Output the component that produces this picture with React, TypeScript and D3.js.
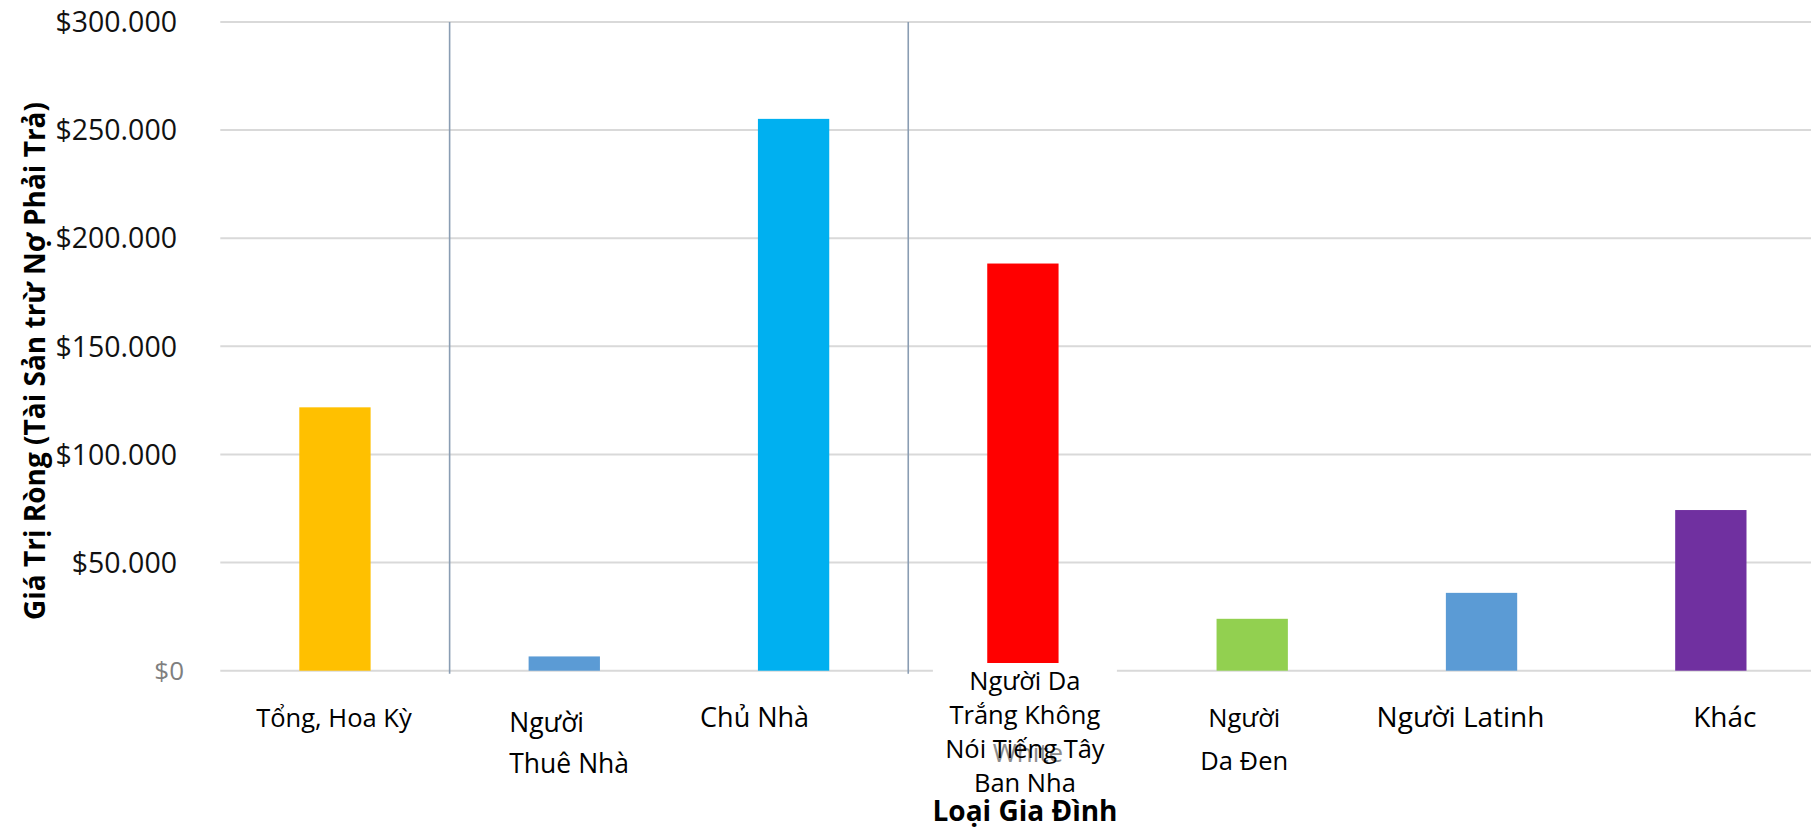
import React from "react";
import * as d3 from "d3";

// ---- data ----
const categories: string[] = [
  "Tổng, Hoa Kỳ",
  "Người Thuê Nhà",
  "Chủ Nhà",
  "Người Da Trắng Không Nói Tiếng Tây Ban Nha",
  "Người Da Đen",
  "Người Latinh",
  "Khác",
];
const labelLines: string[][] = [
  ["Tổng, Hoa Kỳ"],
  ["Người", "Thuê Nhà"],
  ["Chủ Nhà"],
  ["Người Da", "Trắng Không", "Nói Tiếng Tây", "Ban Nha"],
  ["Người", "Da Đen"],
  ["Người Latinh"],
  ["Khác"],
];
const netWorth: number[] = [121800, 6600, 255200, 188300, 24000, 36000, 74300];
const barColors: string[] = ["#FFC000", "#5B9BD5", "#00B0F0", "#FF0000", "#92D050", "#5B9BD5", "#7030A0"];
const yTicks: number[] = [0, 50000, 100000, 150000, 200000, 250000, 300000];
const separatorsAfter: number[] = [0, 2];
const yTitle = "Giá Trị Ròng (Tài Sản trừ Nợ Phải Trả)";
const xTitle = "Loại Gia Đình";
const ghostText = "White";

// ---- layout ----
const W = 1811;
const H = 829;
const FONT = "'Open Sans', 'Noto Sans', sans-serif";
// per-label layout tweaks (dx from band centre, anchor, first baseline, line gap, size)
const labelLayout = [
  { dx: -1, anchor: "middle", y: 727, gap: 42, size: 25.5 },
  { dx: -55, anchor: "start", y: 732, gap: 41, size: 26.5 },
  { dx: -39, anchor: "middle", y: 727, gap: 42, size: 27 },
  { dx: 2, anchor: "middle", y: 690, gap: 34, size: 25.5 },
  { dx: -8, anchor: "middle", y: 727, gap: 43, size: 25.5 },
  { dx: -21, anchor: "middle", y: 727, gap: 42, size: 28 },
  { dx: 14, anchor: "middle", y: 727, gap: 42, size: 28 },
];

export default function App() {
  const x = d3.scaleBand<string>().domain(categories).range([220.3, 1825.5]).padding(0);
  const y = d3.scaleLinear().domain([0, 300000]).range([670.7, 22]);
  const step = x.step();
  const barW = step * 0.311;
  const fmt = (v: number) => "$" + d3.format(",")(v).replace(/,/g, ".");
  const redCx = (x(categories[3]) as number) + step / 2;

  return (
    <svg
      width={W}
      height={H}
      viewBox={`0 0 ${W} ${H}`}
      style={{ position: "absolute", left: 0, top: 0, display: "block", background: "#fff" }}
    >
      <rect x={0} y={0} width={W} height={H} fill="#fff" />
      {/* gridlines */}
      {yTicks.map((t) => (
        <line key={"g" + t} x1={x.range()[0]} x2={x.range()[1]} y1={y(t)} y2={y(t)} stroke="#d9d9d9" strokeWidth={2} />
      ))}
      {/* tick labels */}
      {yTicks.map((t) => (
        <text
          key={"t" + t}
          x={t === 0 ? 184 : 177}
          y={y(t)}
          dy="0.36em"
          textAnchor="end"
          fontFamily={FONT}
          fontSize={t === 0 ? 26 : 28.5}
          fill={t === 0 ? "#7f7f7f" : "#111"}
        >
          {fmt(t)}
        </text>
      ))}
      {/* separators */}
      {separatorsAfter.map((i) => {
        const sx = (x(categories[i]) as number) + step;
        return <line key={"s" + i} x1={sx} x2={sx} y1={y(300000)} y2={y(0) + 3} stroke="#8a9db3" strokeWidth={1.6} />;
      })}
      {/* bars */}
      {categories.map((c, i) => {
        const cx = (x(c) as number) + step / 2;
        return (
          <rect
            key={"b" + i}
            x={cx - barW / 2}
            y={y(netWorth[i])}
            width={barW}
            height={y(0) - y(netWorth[i])}
            fill={barColors[i]}
          />
        );
      })}
      {/* white patch behind the long label */}
      <rect x={redCx - 90} y={663} width={184} height={127} fill="#fff" />
      <text x={redCx + 5} y={762} textAnchor="middle" fontFamily={FONT} fontSize={26} fill="#8c8c8c">
        {ghostText}
      </text>
      {/* category labels */}
      {categories.map((c, i) => {
        const L = labelLayout[i];
        const cx = (x(c) as number) + step / 2 + L.dx;
        return (
          <text key={"l" + i} fontFamily={FONT} fontSize={L.size} fill="#000" textAnchor={L.anchor as any}>
            {labelLines[i].map((ln, j) => (
              <tspan key={j} x={cx} y={L.y + j * L.gap}>
                {ln}
              </tspan>
            ))}
          </text>
        );
      })}
      {/* axis titles */}
      <text
        transform={`translate(35,361) rotate(-90)`}
        textAnchor="middle"
        dy="0.36em"
        fontFamily={FONT}
        fontWeight="bold"
        fontSize={28}
        fill="#000"
      >
        {yTitle}
      </text>
      <text x={1025} y={821} textAnchor="middle" fontFamily={FONT} fontWeight="bold" fontSize={28} fill="#000">
        {xTitle}
      </text>
    </svg>
  );
}
